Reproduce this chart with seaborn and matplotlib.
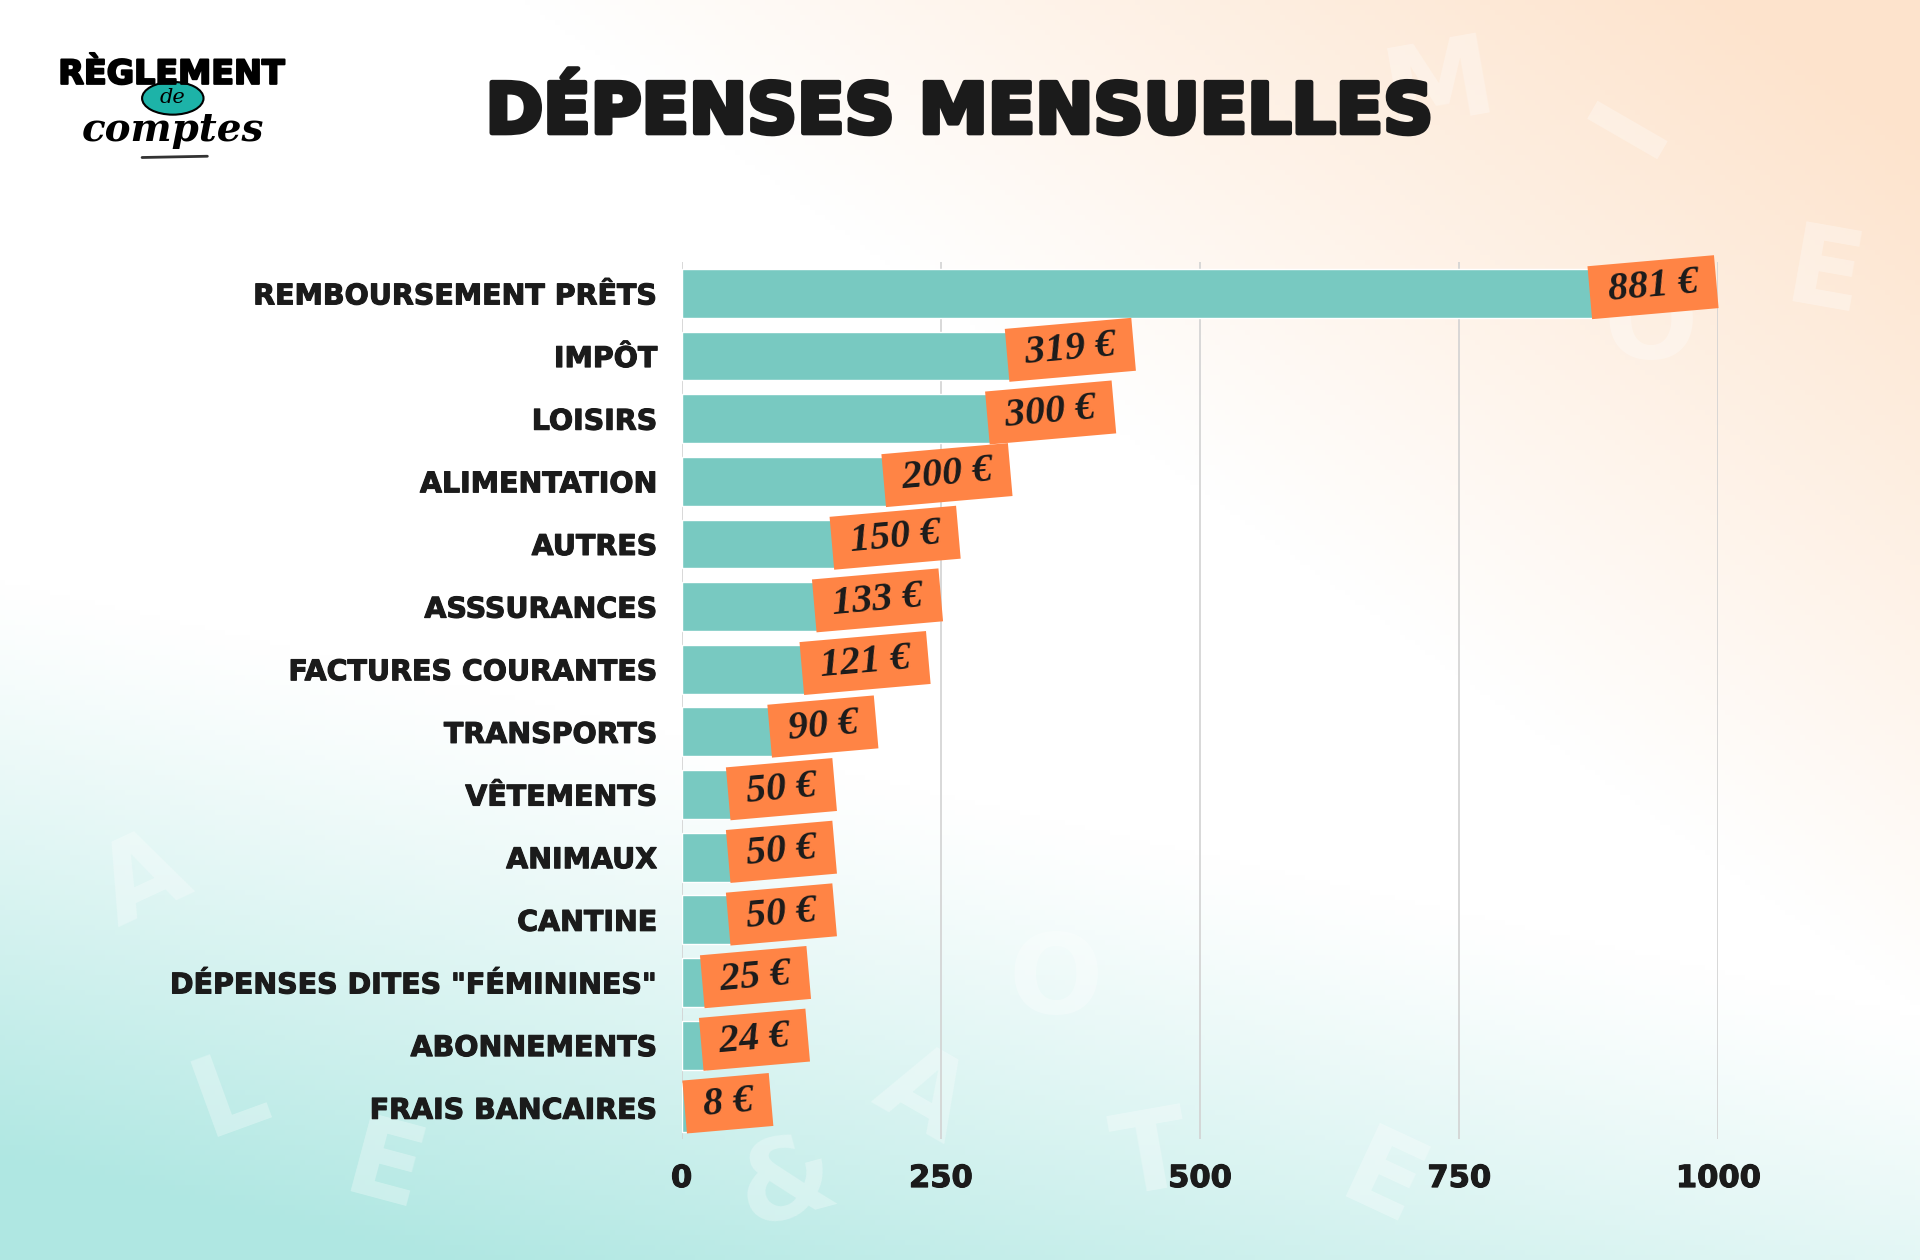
import numpy as np
import pandas as pd
import matplotlib
matplotlib.use("Agg")
import matplotlib.pyplot as plt
import matplotlib.patheffects as pe
from matplotlib.patches import Ellipse
import seaborn as sns

# données
categories = ["REMBOURSEMENT PRÊTS", "IMPÔT", "LOISIRS", "ALIMENTATION", "AUTRES",
              "ASSSURANCES", "FACTURES COURANTES", "TRANSPORTS", "VÊTEMENTS",
              "ANIMAUX", "CANTINE", 'DÉPENSES DITES "FÉMININES"', "ABONNEMENTS",
              "FRAIS BANCAIRES"]
values = [881, 319, 300, 200, 150, 133, 121, 90, 50, 50, 50, 25, 24, 8]
x_ticks = [0, 250, 500, 750, 1000]

TEAL = "#78c9c1"
ORANGE = "#ff8445"
INK = "#1b1b1b"

df = pd.DataFrame({"categorie": categories, "montant": values})

sns.set_theme(style="white")
plt.rcParams["font.family"] = ["DejaVu Sans"]

fig = plt.figure(figsize=(19.2, 12.6), dpi=100)

# fond dégradé : pêche en haut à droite, turquoise en bas à gauche
bg = fig.add_axes([0, 0, 1, 1], zorder=-10)
h, w = 252, 384
yy, xx = np.mgrid[0:1:h * 1j, 0:1:w * 1j]
peach = np.array([253, 227, 204]) / 255
teal_bg = np.array([175, 231, 226]) / 255
white = np.array([1.0, 1.0, 1.0])
a_p = np.clip((1.1 * xx - 1.0 * yy - 0.3) / 0.7, 0, 1)[..., None]
a_t = np.clip((1.3 * yy - 0.45 * xx - 0.6) / 0.6, 0, 1)[..., None] ** 1.2
img = white * (1 - a_p - a_t) + peach * a_p + teal_bg * a_t
bg.imshow(img, aspect="auto", extent=[0, 1, 0, 1], origin="upper")
bg.set_axis_off()

# lettres décoratives, très pâles
deco = [("A", 0.075, 0.3, 25), ("E", 0.2, 0.07, -15), ("L", 0.12, 0.13, 20),
        ("M", 0.75, 0.93, 10), ("O", 0.55, 0.22, 0), ("&", 0.41, 0.06, 15),
        ("E", 0.95, 0.78, -10), ("O", 0.86, 0.74, 0), ("A", 0.48, 0.13, -30),
        ("T", 0.6, 0.08, 10), ("E", 0.72, 0.06, -25), ("I", 0.85, 0.9, 60)]
for ch, dx, dy, rot in deco:
    bg.text(dx, dy, ch, transform=bg.transAxes, fontsize=80, fontweight="bold",
            color="white", alpha=0.3, rotation=rot, ha="center", va="center")

ax = fig.add_axes([0.355, 0.096, 0.54, 0.696])
ax.set_facecolor("none")
sns.barplot(data=df, x="montant", y="categorie", orient="h", color=TEAL,
            saturation=1, width=0.78, ax=ax, zorder=2)

ax.set_xlim(0, 1000)
ax.set_ylim(len(categories) - 0.5, -0.5)
ax.set_xticks(x_ticks)
ax.set_xticklabels([str(t) for t in x_ticks])
ax.xaxis.grid(True, color="#d2d2d2", linewidth=1.2, zorder=0)
ax.yaxis.grid(False)
for sp in ax.spines.values():
    sp.set_visible(False)
ax.tick_params(axis="both", length=0)
ax.tick_params(axis="x", pad=18, labelsize=22, labelcolor=INK)
ax.tick_params(axis="y", pad=17.5, labelsize=20.5, labelcolor=INK)
for lab in ax.get_xticklabels() + ax.get_yticklabels():
    lab.set_fontweight("bold")
    lab.set_path_effects([pe.withStroke(linewidth=0.8, foreground=INK)])
ax.set_xlabel("")
ax.set_ylabel("")

# étiquettes de valeur inclinées
for i, v in enumerate(values):
    ax.annotate(f" {v} € ", xy=(v, i), xytext=(2, 1), textcoords="offset points",
                ha="left", va="center", rotation=5, rotation_mode="anchor",
                fontsize=29, fontweight="bold", fontstyle="italic",
                family=["Liberation Serif"], color=INK, zorder=5,
                bbox=dict(boxstyle="square,pad=0.2", fc=ORANGE, ec="none"))

# titre
fig.text(0.5, 0.91, "DÉPENSES MENSUELLES", ha="center", va="center",
         fontsize=50, fontweight="bold", color=INK,
         path_effects=[pe.withStroke(linewidth=3.5, foreground=INK)])

# logo
fig.text(0.0895, 0.941, "RÈGLEMENT", ha="center", va="center", fontsize=24,
         fontweight="bold", color="black",
         path_effects=[pe.withStroke(linewidth=1.5, foreground="black")])
fig.add_artist(Ellipse((0.09, 0.922), 0.032, 0.026, transform=fig.transFigure,
                       fc="#1db3a8", ec="black", lw=1.5, zorder=3))
fig.text(0.09, 0.923, "de", ha="center", va="center", fontsize=15,
         fontstyle="italic", family=["DejaVu Serif"], color="black", zorder=4)
fig.text(0.09, 0.897, "comptes", ha="center", va="center", fontsize=28,
         fontstyle="italic", fontweight="bold", family=["DejaVu Serif"], color="black")
fig.add_artist(plt.Line2D([0.074, 0.108], [0.875, 0.876], transform=fig.transFigure,
                          color="#333333", lw=2))

fig.savefig("out.png", dpi=100)
